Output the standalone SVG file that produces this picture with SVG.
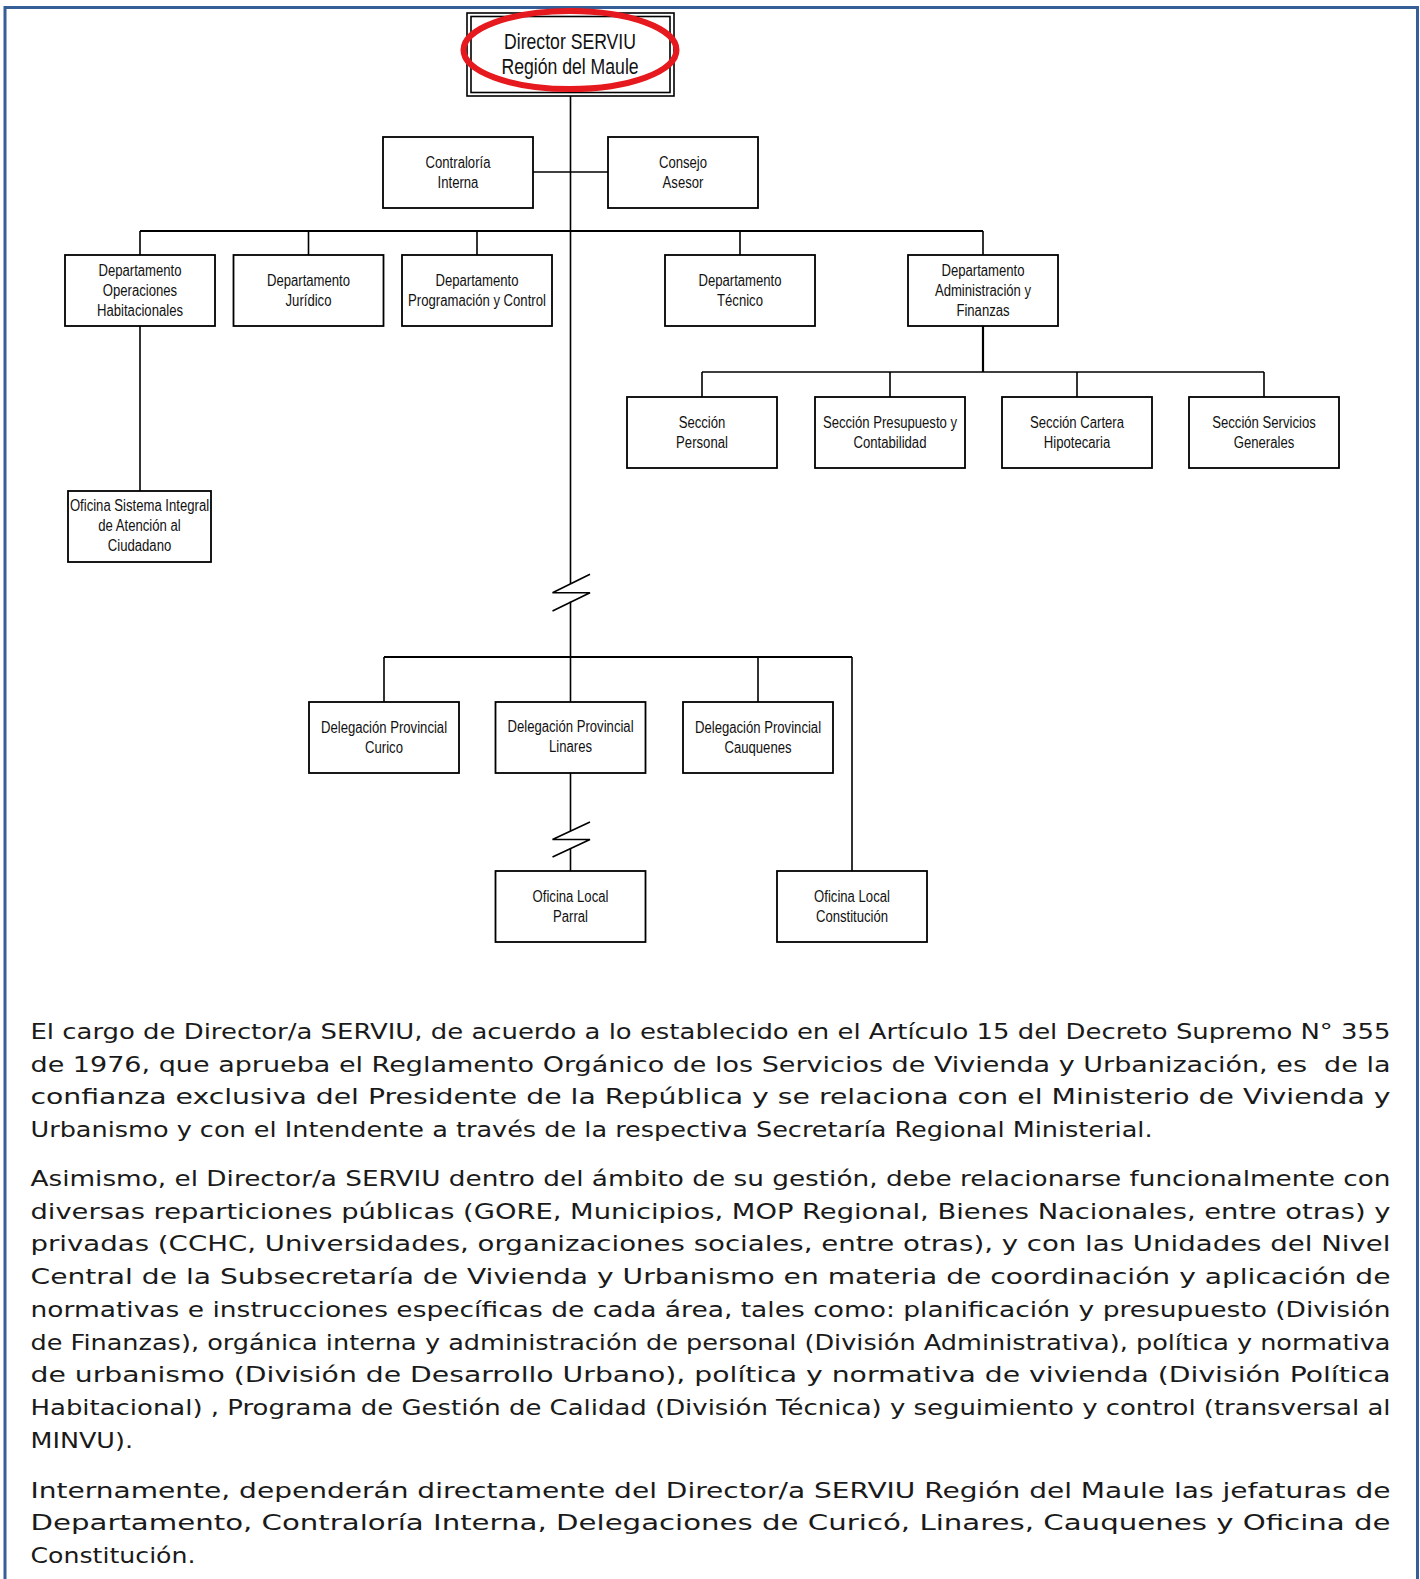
<svg xmlns="http://www.w3.org/2000/svg" width="1420" height="1579" viewBox="0 0 1420 1579">
<style>
.box{fill:#fff;stroke:#000;stroke-width:1.8}
.ln{fill:none;stroke:#000;stroke-width:1.6}
.lnb{fill:none;stroke:#000;stroke-width:2.2}
.nt{font-family:"Liberation Sans",Arial,sans-serif;font-size:16px;text-anchor:middle;fill:#111}
.dt{font-family:"Liberation Sans",Arial,sans-serif;font-size:21.5px;text-anchor:middle;fill:#111}
.pt{font-family:"DejaVu Sans","Liberation Sans",sans-serif;font-size:22px;fill:#1a1a1a}
</style>
<rect x="0" y="0" width="1420" height="1579" fill="#fff"/>
<path d="M5,1600 V7.5 H1417.5 V1600" fill="none" stroke="#355F96" stroke-width="3"/>

<g id="connectors">
<path class="ln" d="M570.5,96 V583.7 M570.5,601.5 V702"/>
<path class="ln" d="M590,574.3 L552.5,592.7 L590,592.7 L552.5,611"/>
<path class="ln" d="M533,172 H608"/>
<path class="lnb" d="M140,231 H983"/>
<path class="ln" d="M140,231 V255 M308.5,231 V255 M477,231 V255 M740,231 V255 M983,231 V255"/>
<path class="ln" d="M140,326 V491"/>
<path class="lnb" d="M983,326 V372"/>
<path class="ln" d="M702,372 H1264 M702,372 V397 M890,372 V397 M1077,372 V397 M1264,372 V397"/>
<path class="lnb" d="M384,657 H852"/>
<path class="ln" d="M384,657 V702 M758,657 V702 M852,657 V871"/>
<path class="ln" d="M570.5,773 V831 M570.5,848.5 V871"/>
<path class="ln" d="M590,822 L552.5,839.5 L590,839.5 L552.5,857"/>
</g>

<g id="n-director">
<rect x="467" y="13" width="207" height="83" fill="#fff" stroke="#000" stroke-width="1.6"/>
<rect x="471" y="16.5" width="199" height="76" fill="none" stroke="#000" stroke-width="1.6"/>
<text class="dt" transform="translate(570,49) scale(0.82,1)"><tspan x="0" y="0">Director SERVIU</tspan><tspan x="0" y="25">Región del Maule</tspan></text>
<ellipse cx="570" cy="50" rx="106.5" ry="39" fill="none" stroke="#E5191E" stroke-width="6"/>
</g>

<g id="n-contraloria">
<rect class="box" x="383" y="137" width="150" height="71"/>
<text class="nt" transform="translate(458,168) scale(0.82,1)"><tspan x="0" y="0">Contraloría</tspan><tspan x="0" y="20">Interna</tspan></text>
</g>
<g id="n-consejo">
<rect class="box" x="608" y="137" width="150" height="71"/>
<text class="nt" transform="translate(683,168) scale(0.82,1)"><tspan x="0" y="0">Consejo</tspan><tspan x="0" y="20">Asesor</tspan></text>
</g>

<g id="n-operaciones">
<rect class="box" x="65" y="255" width="150" height="71"/>
<text class="nt" transform="translate(140,276) scale(0.82,1)"><tspan x="0" y="0">Departamento</tspan><tspan x="0" y="20">Operaciones</tspan><tspan x="0" y="40">Habitacionales</tspan></text>
</g>
<g id="n-juridico">
<rect class="box" x="233.5" y="255" width="150" height="71"/>
<text class="nt" transform="translate(308.5,286) scale(0.82,1)"><tspan x="0" y="0">Departamento</tspan><tspan x="0" y="20">Jurídico</tspan></text>
</g>
<g id="n-programacion">
<rect class="box" x="402" y="255" width="150" height="71"/>
<text class="nt" transform="translate(477,286) scale(0.82,1)"><tspan x="0" y="0">Departamento</tspan><tspan x="0" y="20">Programación y Control</tspan></text>
</g>
<g id="n-tecnico">
<rect class="box" x="665" y="255" width="150" height="71"/>
<text class="nt" transform="translate(740,286) scale(0.82,1)"><tspan x="0" y="0">Departamento</tspan><tspan x="0" y="20">Técnico</tspan></text>
</g>
<g id="n-administracion">
<rect class="box" x="908" y="255" width="150" height="71"/>
<text class="nt" transform="translate(983,276) scale(0.82,1)"><tspan x="0" y="0">Departamento</tspan><tspan x="0" y="20">Administración y</tspan><tspan x="0" y="40">Finanzas</tspan></text>
</g>

<g id="n-personal">
<rect class="box" x="627" y="397" width="150" height="71"/>
<text class="nt" transform="translate(702,428) scale(0.82,1)"><tspan x="0" y="0">Sección</tspan><tspan x="0" y="20">Personal</tspan></text>
</g>
<g id="n-presupuesto">
<rect class="box" x="815" y="397" width="150" height="71"/>
<text class="nt" transform="translate(890,428) scale(0.82,1)"><tspan x="0" y="0">Sección Presupuesto y</tspan><tspan x="0" y="20">Contabilidad</tspan></text>
</g>
<g id="n-cartera">
<rect class="box" x="1002" y="397" width="150" height="71"/>
<text class="nt" transform="translate(1077,428) scale(0.82,1)"><tspan x="0" y="0">Sección Cartera</tspan><tspan x="0" y="20">Hipotecaria</tspan></text>
</g>
<g id="n-servicios">
<rect class="box" x="1189" y="397" width="150" height="71"/>
<text class="nt" transform="translate(1264,428) scale(0.82,1)"><tspan x="0" y="0">Sección Servicios</tspan><tspan x="0" y="20">Generales</tspan></text>
</g>

<g id="n-siac">
<rect class="box" x="68" y="491" width="143" height="71"/>
<text class="nt" transform="translate(139.5,511) scale(0.82,1)"><tspan x="0" y="0">Oficina Sistema Integral</tspan><tspan x="0" y="20">de Atención al</tspan><tspan x="0" y="40">Ciudadano</tspan></text>
</g>

<g id="n-curico">
<rect class="box" x="309" y="702" width="150" height="71"/>
<text class="nt" transform="translate(384,733) scale(0.82,1)"><tspan x="0" y="0">Delegación Provincial</tspan><tspan x="0" y="20">Curico</tspan></text>
</g>
<g id="n-linares">
<rect class="box" x="495.5" y="702" width="150" height="71"/>
<text class="nt" transform="translate(570.5,732) scale(0.82,1)"><tspan x="0" y="0">Delegación Provincial</tspan><tspan x="0" y="20">Linares</tspan></text>
</g>
<g id="n-cauquenes">
<rect class="box" x="683" y="702" width="150" height="71"/>
<text class="nt" transform="translate(758,733) scale(0.82,1)"><tspan x="0" y="0">Delegación Provincial</tspan><tspan x="0" y="20">Cauquenes</tspan></text>
</g>
<g id="n-parral">
<rect class="box" x="495.5" y="871" width="150" height="71"/>
<text class="nt" transform="translate(570.5,902) scale(0.82,1)"><tspan x="0" y="0">Oficina Local</tspan><tspan x="0" y="20">Parral</tspan></text>
</g>
<g id="n-constitucion">
<rect class="box" x="777" y="871" width="150" height="71"/>
<text class="nt" transform="translate(852,902) scale(0.82,1)"><tspan x="0" y="0">Oficina Local</tspan><tspan x="0" y="20">Constitución</tspan></text>
</g>

<g id="paragraphs" class="pt">
<text x="30.5" y="1039" textLength="1360" lengthAdjust="spacingAndGlyphs">El cargo de Director/a SERVIU, de acuerdo a lo establecido en el Artículo 15 del Decreto Supremo N° 355</text>
<text x="30.5" y="1071.7" textLength="1360" lengthAdjust="spacingAndGlyphs">de 1976, que aprueba el Reglamento Orgánico de los Servicios de Vivienda y Urbanización, es&#160; de la</text>
<text x="30.5" y="1104.4" textLength="1360" lengthAdjust="spacingAndGlyphs">confianza exclusiva del Presidente de la República y se relaciona con el Ministerio de Vivienda y</text>
<text x="30.5" y="1137.1" textLength="1122" lengthAdjust="spacingAndGlyphs">Urbanismo y con el Intendente a través de la respectiva Secretaría Regional Ministerial.</text>

<text x="30.5" y="1186" textLength="1360" lengthAdjust="spacingAndGlyphs">Asimismo, el Director/a SERVIU dentro del ámbito de su gestión, debe relacionarse funcionalmente con</text>
<text x="30.5" y="1218.7" textLength="1360" lengthAdjust="spacingAndGlyphs">diversas reparticiones públicas (GORE, Municipios, MOP Regional, Bienes Nacionales, entre otras) y</text>
<text x="30.5" y="1251.4" textLength="1360" lengthAdjust="spacingAndGlyphs">privadas (CCHC, Universidades, organizaciones sociales, entre otras), y con las Unidades del Nivel</text>
<text x="30.5" y="1284.1" textLength="1360" lengthAdjust="spacingAndGlyphs">Central de la Subsecretaría de Vivienda y Urbanismo en materia de coordinación y aplicación de</text>
<text x="30.5" y="1316.8" textLength="1360" lengthAdjust="spacingAndGlyphs">normativas e instrucciones específicas de cada área, tales como: planificación y presupuesto (División</text>
<text x="30.5" y="1349.5" textLength="1360" lengthAdjust="spacingAndGlyphs">de Finanzas), orgánica interna y administración de personal (División Administrativa), política y normativa</text>
<text x="30.5" y="1382.2" textLength="1360" lengthAdjust="spacingAndGlyphs">de urbanismo (División de Desarrollo Urbano), política y normativa de vivienda (División Política</text>
<text x="30.5" y="1414.9" textLength="1360" lengthAdjust="spacingAndGlyphs">Habitacional) , Programa de Gestión de Calidad (División Técnica) y seguimiento y control (transversal al</text>
<text x="30.5" y="1447.6" textLength="102.5" lengthAdjust="spacingAndGlyphs">MINVU).</text>

<text x="30.5" y="1497.5" textLength="1360" lengthAdjust="spacingAndGlyphs">Internamente, dependerán directamente del Director/a SERVIU Región del Maule las jefaturas de</text>
<text x="30.5" y="1530.2" textLength="1360" lengthAdjust="spacingAndGlyphs">Departamento, Contraloría Interna, Delegaciones de Curicó, Linares, Cauquenes y Oficina de</text>
<text x="30.5" y="1562.9" textLength="165" lengthAdjust="spacingAndGlyphs">Constitución.</text>
</g>
</svg>
